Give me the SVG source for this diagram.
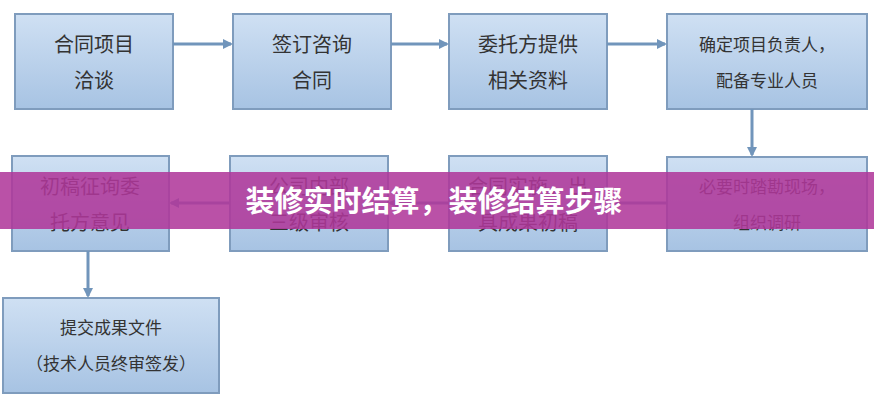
<svg xmlns="http://www.w3.org/2000/svg" width="874" height="400" viewBox="0 0 874 400">
<defs>
<linearGradient id="g" x1="0" y1="0" x2="0" y2="1"><stop offset="0" stop-color="#cfe0f3"/><stop offset="1" stop-color="#a7c3e3"/></linearGradient>
<marker id="a" markerWidth="10" markerHeight="10" refX="8" refY="5" orient="auto" markerUnits="userSpaceOnUse"><path d="M0,0L10,5L0,10z" fill="#7195bb"/></marker>
</defs>
<style>
rect{fill:url(#g);stroke:#7f9cbd;stroke-width:2}
text{font-family:"Noto Sans CJK SC",sans-serif;fill:#333;text-anchor:middle}
.t{font-size:20px}.s{font-size:17px}
.c{stroke:#7195bb;stroke-width:3;fill:none;marker-end:url(#a)}
</style>
<rect width="874" height="400" style="fill:#fff;stroke:none"/>
<g id="n1"><rect x="15" y="14" width="158" height="95"/><text class="t" x="94" y="52">合同项目</text><text class="t" x="94" y="88">洽谈</text></g>
<g id="n2"><rect x="233" y="14" width="158" height="95"/><text class="t" x="312" y="52">签订咨询</text><text class="t" x="312" y="88">合同</text></g>
<g id="n3"><rect x="449" y="14" width="158" height="95"/><text class="t" x="528" y="52">委托方提供</text><text class="t" x="528" y="88">相关资料</text></g>
<g id="n4"><rect x="667" y="14" width="200" height="95"/><text class="s" x="767" y="51">确定项目负责人，</text><text class="s" x="767" y="87">配备专业人员</text></g>
<g id="n5"><rect x="12" y="156" width="157" height="95"/><text class="t" x="90" y="194">初稿征询委</text><text class="t" x="90" y="230">托方意见</text></g>
<g id="n6"><rect x="230" y="156" width="158" height="95"/><text class="t" x="309" y="194">公司内部</text><text class="t" x="309" y="230">三级审核</text></g>
<g id="n7"><rect x="449" y="156" width="158" height="95"/><text class="t" x="528" y="194">合同实施，出</text><text class="t" x="528" y="230">具成果初稿</text></g>
<g id="n8"><rect x="667" y="157" width="200" height="94"/><text class="s" x="767" y="193">必要时踏勘现场，</text><text class="s" x="767" y="229">组织调研</text></g>
<g id="n9"><rect x="3" y="298" width="216" height="95"/><text class="s" x="111" y="334">提交成果文件</text><text class="s" x="111" y="370">（技术人员终审签发）</text></g>
<g id="connectors">
<path class="c" d="M173 44H231"/>
<path class="c" d="M391 44H447"/>
<path class="c" d="M607 44H665"/>
<path class="c" d="M752 109V155"/>
<path class="c" d="M667 203H609"/>
<path class="c" d="M449 203H390"/>
<path class="c" d="M230 203H171"/>
<path class="c" d="M88 251V296"/>
</g>
<rect x="0" y="172" width="874" height="57" style="fill:#b0379a;fill-opacity:0.87;stroke:none"/>
<text x="434" y="212" style="font-size:29px;font-weight:bold;fill:#fff">装修实时结算，装修结算步骤</text>
</svg>
